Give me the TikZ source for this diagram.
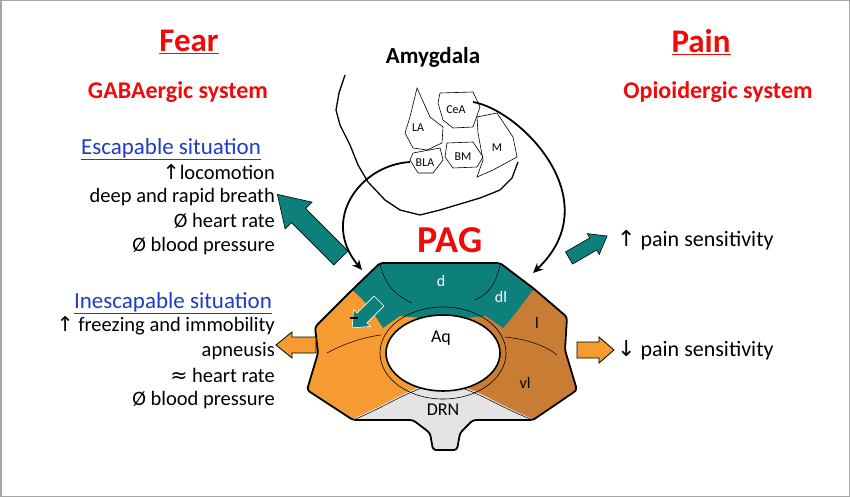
\documentclass[tikz,border=0pt]{standalone}
\usepackage{fontspec}
\setmainfont{Carlito}
\newfontfamily\sym{DejaVu Sans}
\usetikzlibrary{arrows.meta}
\definecolor{teal2}{RGB}{14,128,124}
\definecolor{orL}{RGB}{246,154,50}
\definecolor{orD}{RGB}{201,124,52}
\definecolor{drn}{RGB}{228,228,228}
\definecolor{redT}{RGB}{240,10,10}
\definecolor{blueT}{RGB}{30,60,200}
% \fatarrow{x,y}{angle}{length}{half shaft}{half head}{head length}{style}
\newcommand\fatarrow[7]{\begin{scope}[shift={(#1)}, rotate=#2]
\filldraw[#7] (0,-#4) -- ({#3-#6},-#4) -- ({#3-#6},-#5) -- (#3,0) -- ({#3-#6},#5) -- ({#3-#6},#4) -- (0,#4) -- cycle;
\end{scope}}
\begin{document}
\begin{tikzpicture}[x=1pt,y=-1pt,
  txt/.style={font=\fontsize{20.5}{22}\selectfont, inner sep=0pt, anchor=east},
  rtxt/.style={font=\fontsize{22}{24}\selectfont, inner sep=0pt, anchor=west},
  head/.style={font=\fontsize{33}{36}\selectfont\bfseries, text=redT},
  sub/.style={font=\fontsize{24}{26}\selectfont\bfseries, text=redT},
  nuc/.style={draw, line width=0.6pt},
  nlab/.style={font=\fontsize{12}{13}\selectfont, inner sep=0pt},
  plab/.style={font=\fontsize{16}{17}\selectfont, inner sep=0pt},
  tealA/.style={fill=teal2, draw=black, line width=0.6pt},
  orA/.style={fill=orL, draw=black, line width=0.8pt},
  curv/.style={-{Stealth[length=10pt,width=9pt]}, line width=1.8pt}]
\fill[white] (0,0) rectangle (850,497);
\draw[gray!70, line width=1.5pt] (0.75,0.75) rectangle (849.25,496.25);
\useasboundingbox (0,0) rectangle (850,497);

% titles
\node[head] (fear) at (189,42) {\underline{Fear}};
\node[sub] (gaba) at (178,92) {GABAergic system};
\node[head] (pain) at (701,42) {\underline{Pain}};
\node[sub] (opio) at (718,92) {Opioidergic system};
\node[font=\fontsize{23}{25}\selectfont\bfseries] (amy) at (433,57) {Amygdala};
\node[font=\fontsize{38}{40}\selectfont\bfseries, text=redT] (pag) at (450,240) {PAG};

% left texts
\node[font=\fontsize{23}{25}\selectfont, text=blueT, inner sep=0pt] (esc) at (171,149) {\underline{Escapable situation}};
\node[txt] (e1) at (275,172) {{\sym ↑}locomotion};
\node[txt] (e2) at (275,197) {deep and rapid breath};
\node[txt] (e3) at (275,221) {Ø heart rate};
\node[txt] (e4) at (275,246) {Ø blood pressure};
\node[font=\fontsize{23}{25}\selectfont, text=blueT, inner sep=0pt] (ine) at (173,303) {\underline{Inescapable situation}};
\node[txt] (i1) at (275,326) {{\sym ↑} freezing and immobility};
\node[txt] (i2) at (275,351) {apneusis};
\node[txt] (i3) at (275,375) {{\sym ≈} heart rate};
\node[txt] (i4) at (275,400) {Ø blood pressure};
\node[rtxt] (p1) at (617,240) {{\sym ↑} pain sensitivity};
\node[rtxt] (p2) at (617,350) {{\sym ↓} pain sensitivity};

% amygdala outline
\draw[line width=1.3pt, line join=round] (345,75) -- (339,93) -- (336,110) -- (340,125) -- (350,145) -- (358,165) -- (368,182) -- (385,200) -- (400,210) -- (420,215) -- (440,210) -- (460,204) -- (480,198) -- (500,190) -- (512,178) -- (518,162);
\draw[nuc] (417,88) -- (430,117) -- (443,127) -- (442,143) -- (427,150) -- (413,148) -- (405,133) -- (410,117) -- cycle;
\draw[nuc] (440,93) -- (473,92) -- (480,107) -- (473,127) -- (453,128) -- (443,120) -- (438,103) -- cycle;
\draw[nuc] (477,117) -- (497,113) -- (513,137) -- (517,157) -- (493,170) -- (477,177) -- (483,160) -- (478,133) -- cycle;
\draw[nuc] (447,143) -- (473,142) -- (483,157) -- (477,167) -- (453,168) -- (445,157) -- cycle;
\draw[nuc] (413,153) -- (440,148) -- (443,160) -- (433,173) -- (418,173) -- (410,160) -- cycle;
\node[nlab] (la) at (418,128) {LA};
\node[nlab] (cea) at (456,110) {CeA};
\node[nlab] (m) at (497,148) {M};
\node[nlab] (bm) at (463,157) {BM};
\node[nlab] (bla) at (425,163) {BLA};

% PAG
\def\pagoutline{(380,263) -- (500,263) -- (533,288) -- (567,317) -- (565,350) -- (577,390) -- (533,420) -- (473,420) -- (460,433) -- (457,450) -- (433,450) -- (430,433) -- (413,420) -- (353,420) -- (307,390) -- (318,353) -- (315,327) -- (352,290) -- cycle}
\begin{scope}
\clip[rounded corners=3pt] \pagoutline;
\fill[orL] (300,250) rectangle (443,460);
\fill[orD] (443,250) rectangle (590,460);
\fill[teal2] (300,250) -- (352,290) .. controls (365,300) and (375,315) .. (383,328) -- (400,316) -- (443,320) -- (486,316) -- (503,328) .. controls (515,315) and (525,300) .. (533,290) -- (590,250) -- cycle;
\fill[drn] (345,422) .. controls (395,402) and (410,385) .. (442,383) .. controls (474,385) and (490,402) .. (540,422) -- (540,460) -- (340,460) -- cycle;
\draw[line width=0.5pt] (380,264) .. controls (385,285) and (395,295) .. (412,303);
\draw[line width=0.5pt] (500,265) .. controls (496,283) and (490,293) .. (475,300);
\draw[line width=0.5pt] (327,353) .. controls (345,343) and (365,337) .. (381,335);
\draw[line width=0.5pt] (505,337) .. controls (525,339) and (545,345) .. (557,355);
\draw[line width=0.5pt] (353,420) .. controls (390,405) and (410,388) .. (442,383) .. controls (474,388) and (494,405) .. (533,420);
\end{scope}
\draw[line width=0.6pt] (443,353) ellipse (63 and 46);
\fill[white] (443,353) ellipse (57 and 38);
\draw[line width=1.6pt] (443,353) ellipse (57 and 38);
\draw[line width=1.8pt, rounded corners=3pt, line join=round] \pagoutline;
\node[plab, text=white] (d) at (441,281) {d};
\node[plab, text=white] (dl) at (501,297) {dl};
\node[plab] (l) at (537,323) {l};
\node[plab] (vl) at (525,383) {vl};
\node[plab, font=\fontsize{18}{19}\selectfont] (aq) at (441,338) {Aq};
\node[plab, font=\fontsize{18}{19}\selectfont] (drnl) at (443,410) {DRN};

% curved arrows
\coordinate (blaend) at (410,162);
\coordinate (ceaend) at (473,102);
\coordinate (pagl) at (362,270);
\coordinate (pagr) at (533,273);
\draw[curv] (blaend) .. controls (360,165) and (320,220) .. (pagl);
\draw[curv] (ceaend) .. controls (520,110) and (610,200) .. (pagr);

% big arrows
\fatarrow{341,258}{135}{90}{10}{19}{30}{tealA}
\fatarrow{569,258}{30}{44}{7}{12}{16}{tealA}
\fatarrow{316,345}{180}{40}{8}{13}{16}{orA}
\fatarrow{577,350}{0}{37}{8}{13}{15}{orA}
\fatarrow{379,301}{225}{38}{7}{12}{14}{fill=teal2, draw=white, line width=0.6pt}
\draw[line width=2.2pt] (350,318) -- (358,318);
\end{tikzpicture}
\end{document}
